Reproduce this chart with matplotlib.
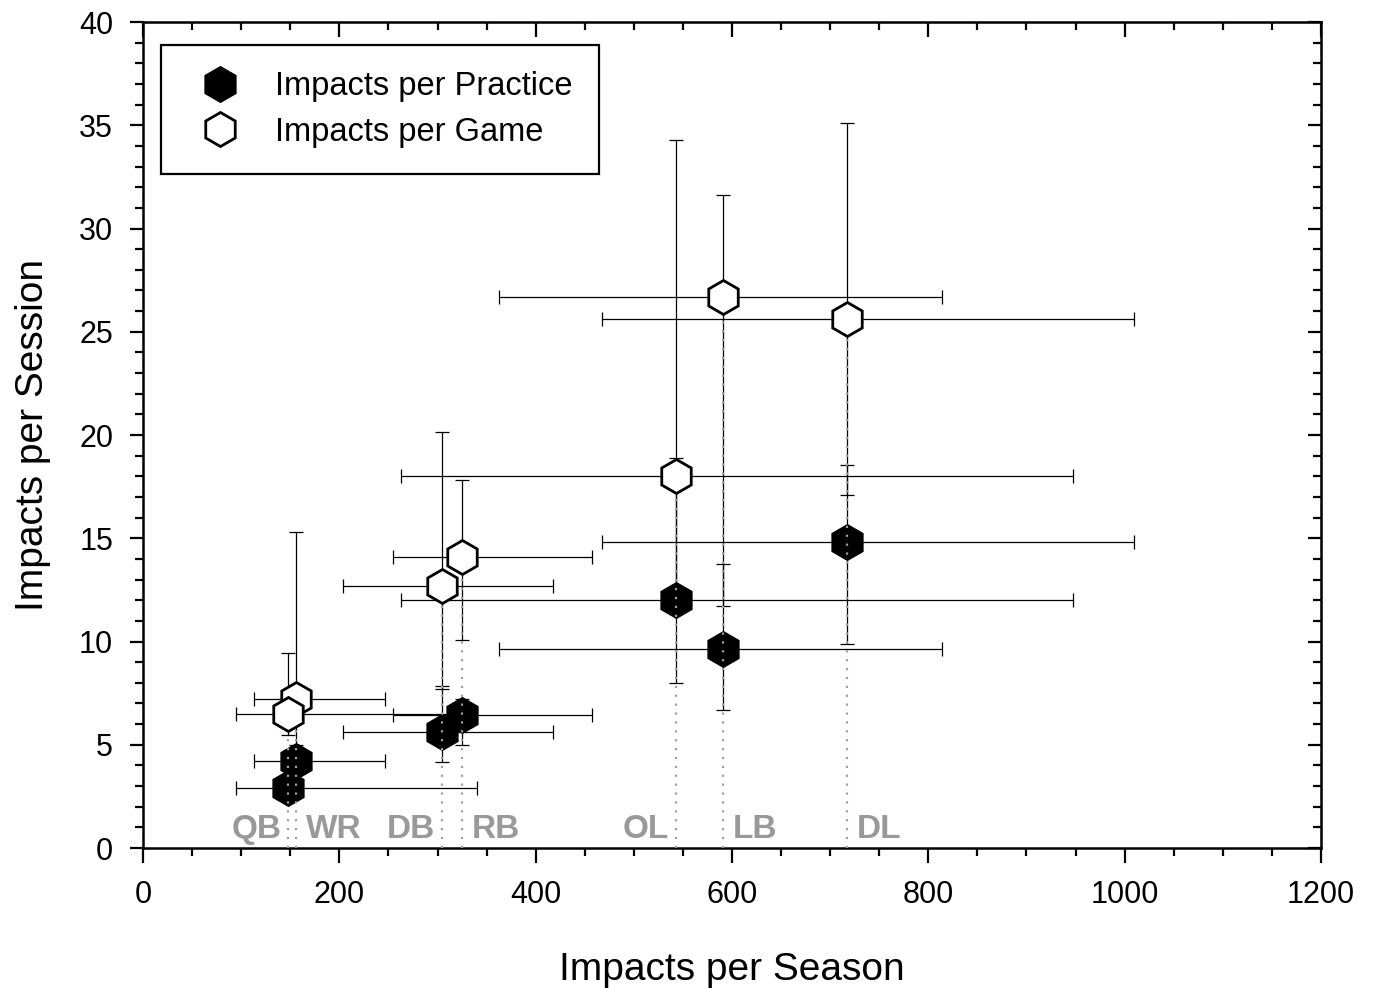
"""
Impacts per session vs impacts per season, by playing position.
"""

import matplotlib

matplotlib.use("Agg")
import matplotlib.pyplot as plt
import numpy as np
from matplotlib.ticker import MultipleLocator

plt.rcParams["font.family"] = ["Liberation Sans", "DejaVu Sans"]

# Positions (drawing order: later ones end up on top)
positions = ["WR", "QB", "DB", "RB", "OL", "LB", "DL"]
label_side = ["left", "right", "right", "left", "right", "left", "left"]

# Impacts per season (x) with asymmetric ranges
season = np.array([156, 148, 305, 325, 543, 591, 717])
season_lo = np.array([113, 95, 204, 255, 263, 363, 468])
season_hi = np.array([246, 340, 418, 457, 947, 814, 1010])

# Impacts per practice
practice = np.array([4.2, 2.9, 5.6, 6.45, 12.0, 9.65, 14.8])
practice_lo = np.array([3.6, 2.3, 4.17, 5.0, 8.0, 6.7, 9.9])
practice_hi = np.array([5.0, 3.5, 7.85, 7.2, 18.9, 13.75, 18.55])

# Impacts per game
game = np.array([7.2, 6.5, 12.7, 14.1, 18.0, 26.7, 25.6])
game_lo = np.array([4.5, 5.47, 7.7, 10.07, 12.0, 11.7, 17.1])
game_hi = np.array([15.3, 9.45, 20.15, 17.8, 34.3, 31.6, 35.1])

fig = plt.figure(figsize=(13.74, 9.88), dpi=100)
ax = fig.add_axes([0.1041, 0.1417, 0.8573, 0.836])

err_kw = dict(fmt="none", ecolor="black", elinewidth=0.9, capsize=5, capthick=0.9, zorder=2)

# error bars
ax.errorbar(season, practice,
            xerr=[season - season_lo, season_hi - season],
            yerr=[practice - practice_lo, practice_hi - practice], **err_kw)
ax.errorbar(season, game,
            xerr=[season - season_lo, season_hi - season],
            yerr=[game - game_lo, game_hi - game], **err_kw)

# practice markers
ax.plot(season, practice, linestyle="none", marker="h", markersize=24.5,
        markerfacecolor="black", markeredgecolor="black", markeredgewidth=2.0,
        zorder=3, label="Impacts per Practice")

# dotted drop lines down to the axis
ax.vlines(season, 0, game, colors="#a0a0a0", linestyles=(0, (1, 3)),
          linewidth=1.6, zorder=4)

# game markers
ax.plot(season, game, linestyle="none", marker="h", markersize=24.5,
        markerfacecolor="white", markeredgecolor="black", markeredgewidth=2.0,
        zorder=5, label="Impacts per Game")

# position labels
for pos, x, side in zip(positions, season, label_side):
    dx = -5 if side == "right" else 7
    ax.annotate(pos, xy=(x, 0.9), xytext=(dx, 0), textcoords="offset points",
                ha=side, va="center", fontsize=24, fontweight="bold",
                color="#999999", zorder=6)

ax.set_xlim(0, 1200)
ax.set_ylim(0, 40)
ax.xaxis.set_major_locator(MultipleLocator(200))
ax.xaxis.set_minor_locator(MultipleLocator(50))
ax.yaxis.set_major_locator(MultipleLocator(5))
ax.yaxis.set_minor_locator(MultipleLocator(1))

# outward ticks on bottom/left, inward on top/right
ax.tick_params(which="both", direction="out", width=1.6, labelsize=22)
ax.tick_params(axis="x", which="major", length=11, pad=12)
ax.tick_params(axis="y", which="major", length=9.5, pad=12)
ax.tick_params(which="minor", length=5.5)
sec_x = ax.secondary_xaxis("top")
sec_x.xaxis.set_major_locator(MultipleLocator(200))
sec_x.xaxis.set_minor_locator(MultipleLocator(50))
sec_x.tick_params(which="both", direction="in", width=1.6, labeltop=False)
sec_x.tick_params(which="major", length=11)
sec_x.tick_params(which="minor", length=5.5)
sec_y = ax.secondary_yaxis("right")
sec_y.yaxis.set_major_locator(MultipleLocator(5))
sec_y.yaxis.set_minor_locator(MultipleLocator(1))
sec_y.tick_params(which="both", direction="in", width=1.6, labelright=False)
sec_y.tick_params(which="major", length=9.5)
sec_y.tick_params(which="minor", length=5.5)

for sp in ax.spines.values():
    sp.set_linewidth(1.8)

ax.set_xlabel("Impacts per Season", fontsize=28, labelpad=30)
ax.set_ylabel("Impacts per Session", fontsize=28, labelpad=20)

leg = ax.legend(loc="upper left", bbox_to_anchor=(0.0, 0.994), borderaxespad=0.55,
                fontsize=23.5, numpoints=1, fancybox=False, framealpha=1,
                edgecolor="black", borderpad=0.8, labelspacing=0.45,
                handletextpad=0.7, handlelength=2.0)
leg.get_frame().set_linewidth(1.6)

fig.savefig("out.png", dpi=100)
